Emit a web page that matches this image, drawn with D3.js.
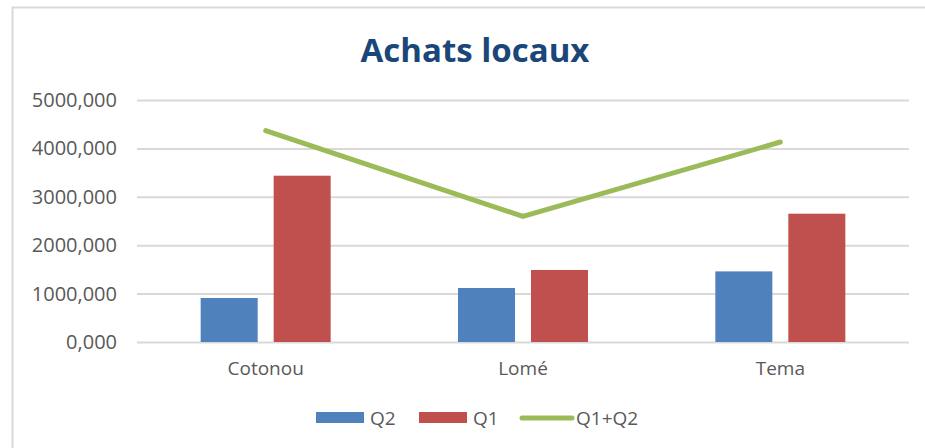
<!DOCTYPE html>
<html>
<head>
<meta charset="utf-8">
<script src="https://cdn.jsdelivr.net/npm/d3@7"></script>
<style>
  body { margin: 0; background: #fff; }
  text { font-family: "Open Sans", sans-serif; }
</style>
</head>
<body>
<div id="chart"></div>
<script>
//----------------------------
// Data
//----------------------------

var categories = ["Cotonou", "Lomé", "Tema"];
var seriesNames = ["Q2", "Q1"];
var q2Values = [909, 1116, 1459];
var q1Values = [3436, 1488, 2651];
var totalValues = [4366, 2595, 4132];
var yTicks = [0, 1000, 2000, 3000, 4000, 5000];
var legendLabels = ["Q2", "Q1", "Q1+Q2"];

var colors = { Q2: "#4F81BD", Q1: "#C0504D", total: "#9BBB59" };

//----------------------------
// Layout
//----------------------------

var w = 925, h = 448;
var plotLeft = 137, plotRight = 909, plotTop = 100, plotBottom = 342;

var svg = d3.select("#chart")
    .append("svg")
    .attr("width", w)
    .attr("height", h);

// chart area frame (only left / top visible in the picture)
svg.append("rect")
    .attr("x", 12.5).attr("y", 7.5)
    .attr("width", 930).attr("height", 460)
    .attr("fill", "none")
    .attr("stroke", "#d9d9d9")
    .attr("stroke-width", 2);

var x = d3.scaleBand()
    .domain(categories)
    .range([plotLeft, plotRight])
    .padding(0);

var groupWidth = 130;
var xSeries = d3.scaleBand()
    .domain(seriesNames)
    .range([(x.bandwidth() - groupWidth) / 2, (x.bandwidth() + groupWidth) / 2])
    .paddingInner(0.219)
    .paddingOuter(0);

var y = d3.scaleLinear()
    .domain([0, 5000])
    .range([plotBottom, plotTop]);

//----------------------------
// Grid + y axis
//----------------------------

var fmt = function (d) { return d3.format(".3f")(d).replace(".", ","); };

var yAxis = svg.append("g")
    .attr("transform", "translate(" + plotLeft + ",0)")
    .call(d3.axisLeft(y)
        .tickValues(yTicks)
        .tickSize(-(plotRight - plotLeft))
        .tickPadding(20)
        .tickFormat(fmt));

yAxis.select(".domain").remove();
yAxis.selectAll(".tick line")
    .attr("stroke", "#d9d9d9")
    .attr("stroke-width", 2);
yAxis.selectAll(".tick text")
    .attr("fill", "#595959")
    .attr("font-size", 20)
    .attr("font-family", "Open Sans, sans-serif");

//----------------------------
// Bars
//----------------------------

var rows = categories.map(function (c, i) {
    return { cat: c, Q2: q2Values[i], Q1: q1Values[i], total: totalValues[i] };
});

var groups = svg.append("g")
    .selectAll("g")
    .data(rows)
    .enter()
    .append("g")
    .attr("transform", function (d) { return "translate(" + x(d.cat) + ",0)"; });

groups.selectAll("rect")
    .data(function (d) { return seriesNames.map(function (s) { return { s: s, v: d[s] }; }); })
    .enter()
    .append("rect")
    .attr("x", function (d) { return xSeries(d.s); })
    .attr("width", xSeries.bandwidth())
    .attr("y", function (d) { return y(d.v); })
    .attr("height", function (d) { return y(0) - y(d.v); })
    .attr("fill", function (d) { return colors[d.s]; });

//----------------------------
// Line
//----------------------------

var line = d3.line()
    .x(function (d) { return x(d.cat) + x.bandwidth() / 2; })
    .y(function (d) { return y(d.total); });

svg.append("path")
    .datum(rows)
    .attr("d", line)
    .attr("fill", "none")
    .attr("stroke", colors.total)
    .attr("stroke-width", 5)
    .attr("stroke-linecap", "round")
    .attr("stroke-linejoin", "round");

//----------------------------
// X labels
//----------------------------

var xAxis = svg.append("g")
    .attr("transform", "translate(0," + plotBottom + ")")
    .call(d3.axisBottom(x).tickSize(0).tickPadding(20));
xAxis.select(".domain").remove();
xAxis.selectAll(".tick text")
    .attr("fill", "#595959")
    .attr("font-size", 19)
    .attr("font-family", "Open Sans, sans-serif");

//----------------------------
// Title
//----------------------------

svg.append("text")
    .attr("x", 475)
    .attr("y", 62)
    .attr("text-anchor", "middle")
    .attr("font-size", 33)
    .attr("font-weight", "bold")
    .attr("fill", "#1A4679")
    .text("Achats locaux");

//----------------------------
// Legend
//----------------------------

var legend = svg.append("g");
var legendX = [316, 419, 520];

legendLabels.forEach(function (lab, i) {
    var g = legend.append("g").attr("transform", "translate(" + legendX[i] + ",0)");
    if (i < 2) {
        g.append("rect")
            .attr("x", 0).attr("y", 412)
            .attr("width", 48).attr("height", 11)
            .attr("fill", colors[seriesNames[i]]);
        g.append("text")
            .attr("x", 54).attr("y", 425)
            .attr("fill", "#595959")
            .attr("font-size", 19)
            .text(lab);
    } else {
        g.append("line")
            .attr("x1", 2).attr("x2", 52)
            .attr("y1", 418).attr("y2", 418)
            .attr("stroke", colors.total)
            .attr("stroke-width", 5)
            .attr("stroke-linecap", "round");
        g.append("text")
            .attr("x", 56).attr("y", 425)
            .attr("fill", "#595959")
            .attr("font-size", 19)
            .text(lab);
    }
});
</script>
</body>
</html>
